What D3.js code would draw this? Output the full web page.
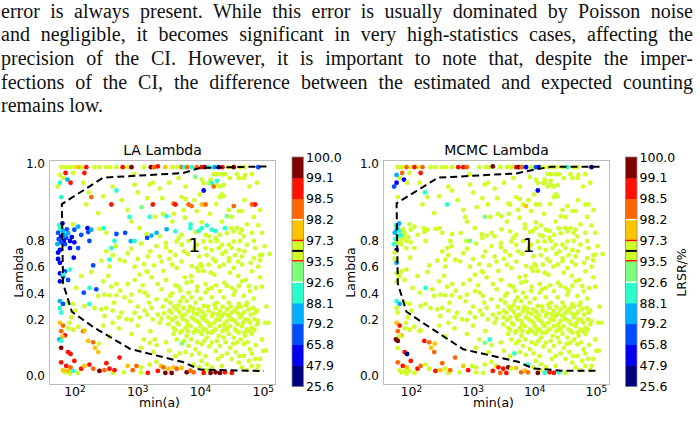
<!DOCTYPE html>
<html>
<head>
<meta charset="utf-8">
<script src="https://cdn.jsdelivr.net/npm/d3@7"></script>
<style>
body { margin: 0; background: #fff; }
svg { display: block; }
</style>
</head>
<body>
<script>
// paragraph above the figure
const paragraph = [
  "error is always present. While this error is usually dominated by Poisson noise",
  "and negligible, it becomes significant in very high-statistics cases, affecting the",
  "precision of the CI. However, it is important to note that, despite the imper-",
  "fections of the CI, the difference between the estimated and expected counting",
  "remains low."
];

// LRSR colour bins (%)
const lrsrBounds = [25.6, 47.9, 65.8, 79.2, 88.1, 92.6, 93.5, 97.3, 98.2, 98.5, 99.1, 100.0];
const lrsrColors = ["#00007f", "#0000f1", "#004cff", "#00b0ff", "#29ffce", "#7dff7a",
                    "#ceff29", "#ffc400", "#ff6800", "#ff1200", "#7f0000"];
// contour levels drawn on the colour bar
const lrsrLines = [98.2, 97.3, 95.4, 93.6, 92.6];
const lrsrLineColors = ["#ffffff", "#ff0000", "#000000", "#ff0000", "#ffffff"];

const yTicks = [0.0, 0.2, 0.4, 0.6, 0.8, 1.0];
const xTickExp = [2, 3, 4, 5];

// points in the 93.5-97.3 bin in both panels: [log10 min(a), lambda]
const bulkLRSR = 95.4;
const bulk = [
  [1.78,0.99],[1.84,0.99],[1.99,0.99],[2.10,0.99],[2.31,0.99],[2.39,0.99],[2.50,0.99],[2.56,0.99],
  [2.66,0.99],[3.10,0.99],[3.55,0.99],[3.62,0.99],[4.45,0.99],[4.63,0.99],[4.70,0.99],
  [1.97,0.975],[2.94,0.972],[1.81,0.962],[2.13,0.95],[2.95,0.945],[3.24,0.95],[3.19,0.945],
  [2.18,0.894],[2.84,0.88],[3.28,0.862],[2.37,0.872],[1.97,0.843],
  [2.60,0.94],[3.00,0.925],[2.75,0.905],[3.15,0.91],[3.35,0.935],[2.45,0.915],[3.50,0.95],
  [2.90,0.85],[3.40,0.87],[3.55,0.85],
  [2.39,0.831],[2.50,0.821],[3.03,0.833],[3.14,0.818],[3.35,0.812],[2.84,0.705],[3.16,0.68],
  [2.42,0.647],[2.71,0.655],[2.79,0.642],[3.26,0.61],[3.14,0.565],
  [2.50,0.72],[2.65,0.76],[2.90,0.74],[3.05,0.78],[3.20,0.72],[3.30,0.76],[2.60,0.69],
  [3.00,0.66],[3.35,0.68],[2.95,0.60],[3.10,0.62],[2.55,0.60],[3.38,0.64],
  [2.10,0.53],[2.26,0.56],[2.45,0.49],[2.53,0.53],[2.66,0.47],[2.84,0.47],[3.03,0.54],
  [3.16,0.56],[3.32,0.47],[2.02,0.44],
  [2.37,0.38],[2.47,0.39],[2.55,0.385],[2.66,0.385],[2.79,0.37],[2.90,0.39],[3.03,0.417],
  [3.11,0.405],[3.16,0.38],[3.30,0.355],
  [2.58,0.45],[2.72,0.42],[2.95,0.50],[3.08,0.46],[3.22,0.52],[3.38,0.43],[3.45,0.50],
  [3.52,0.38],[3.60,0.46],[3.68,0.42],[3.75,0.52],[2.62,0.33],[2.88,0.34],[3.00,0.30],
  [3.18,0.33],[3.40,0.30],[3.45,0.35],[3.50,0.27],[3.65,0.31],[3.72,0.37],[2.70,0.22],
  [2.90,0.20],[3.15,0.24],[3.38,0.21],[3.42,0.25],
  [1.89,0.33],[1.97,0.32],[2.00,0.27],[1.94,0.22],[2.15,0.305],[2.31,0.29],[2.42,0.28],
  [2.50,0.29],[2.47,0.23],[2.60,0.27],[2.74,0.255],[2.82,0.205],[2.95,0.255],[3.03,0.22],
  [3.11,0.27],[3.22,0.29],[3.24,0.205],[3.32,0.24],
  [1.89,0.17],[1.97,0.165],[1.91,0.19],[2.05,0.175],
  [2.90,0.15],[3.00,0.18],[3.10,0.13],[3.20,0.16],[3.30,0.11],[3.35,0.19],[2.70,0.17],
  [2.60,0.19],[3.05,0.10],[3.25,0.085],[3.45,0.12],[3.50,0.09],[3.60,0.07],[2.45,0.18],[2.55,0.14],
  [1.84,0.012],[1.92,0.008],[2.05,0.01],[2.60,0.01],[2.78,0.012],[3.05,0.012],[3.19,0.04],
  [3.98,0.03],[4.09,0.02],[4.18,0.03],[4.34,0.035],[4.66,0.03],[4.74,0.02],[4.82,0.035],
  [4.90,0.02],[3.05,0.03],[3.30,0.05],
  [3.65,0.962],[4.21,0.972],[4.26,0.972],[4.34,0.972],[4.39,0.972],[4.47,0.962],[4.58,0.972],
  [4.71,0.97],[4.82,0.972],[4.61,0.962],[4.69,0.962],[4.02,0.958],[4.16,0.958],[4.13,0.949],
  [4.05,0.949],[4.26,0.944],[4.31,0.94],[4.37,0.944],[3.76,0.94],[3.39,0.91],[3.70,0.913],
  [3.76,0.908],[3.99,0.92],[4.34,0.92],[4.31,0.913],[4.37,0.915],[3.73,0.88],[3.94,0.877],
  [4.45,0.88],[4.61,0.877],[4.66,0.877],[4.50,0.862],[4.85,0.862],[4.02,0.848],[4.34,0.85],
  [4.92,0.84],[4.74,0.843],[4.49,0.833],[4.58,0.833],[4.90,0.95],[4.78,0.94],
  [3.58,0.87],[3.75,0.86],[4.15,0.87],[4.25,0.895],[4.70,0.905],[4.95,0.88],[3.90,0.905],
  [3.92,0.823],[3.70,0.816],[3.65,0.808],[3.81,0.80],[4.08,0.816],[4.13,0.812],[4.24,0.808],
  [4.31,0.816],[4.42,0.82],[4.53,0.825],[4.63,0.821],[4.69,0.812],[4.82,0.821],[4.98,0.821],[4.66,0.829],
  [3.45,0.785],[3.62,0.797],[3.70,0.771],[3.94,0.771],[4.05,0.797],[4.16,0.797],[4.26,0.80],
  [4.34,0.771],[4.45,0.771],[4.53,0.797],[4.63,0.80],[4.74,0.771],[4.85,0.80],[3.52,0.719],
  [3.73,0.719],[4.08,0.745],[4.18,0.73],[4.29,0.745],[4.40,0.719],[4.50,0.745],[4.61,0.73],
  [4.87,0.745],[4.45,0.667],[4.66,0.68],[4.85,0.667],[4.98,0.693],[3.60,0.69],[3.98,0.68],
  [3.50,0.66],[3.70,0.64],[3.80,0.70],[3.90,0.74],[4.10,0.69],[4.20,0.66],[4.35,0.70],
  [4.55,0.69],[4.70,0.72],[4.80,0.63],[4.92,0.60],[3.45,0.75],[4.00,0.62],[4.30,0.60],[4.60,0.64],
  [3.55,0.616],[3.62,0.59],[3.86,0.605],[3.94,0.59],[4.02,0.605],[4.13,0.616],[4.24,0.642],
  [4.37,0.616],[4.45,0.642],[4.53,0.59],[4.66,0.616],[4.82,0.565],[4.95,0.65],[5.10,0.70],
  [4.95,0.69],[5.02,0.76],
  [3.41,0.568],[3.97,0.568],[4.05,0.568],[4.16,0.555],[4.47,0.555],[3.86,0.49],[4.08,0.47],
  [4.18,0.44],[4.42,0.455],[4.50,0.44],[4.61,0.455],[4.66,0.49],[4.77,0.455],[4.31,0.417],
  [3.94,0.417],[4.08,0.405],[3.81,0.405],[4.37,0.37],[4.53,0.39],[4.69,0.38],[4.79,0.417],
  [3.86,0.37],[3.68,0.342],[3.78,0.342],[3.92,0.33],[4.00,0.36],[4.18,0.37],[4.26,0.33],
  [4.45,0.33],[4.61,0.32],[4.74,0.33],[4.85,0.36],
  [3.55,0.40],[3.65,0.45],[3.78,0.48],[3.95,0.45],[4.12,0.43],[4.25,0.46],[4.38,0.48],
  [4.55,0.42],[4.72,0.50],[4.88,0.44],[3.85,0.53],[4.22,0.54],[4.60,0.53],
  [3.62,0.28],[3.54,0.255],[3.73,0.29],[3.81,0.268],[3.89,0.255],[3.97,0.28],[4.05,0.305],
  [4.13,0.268],[4.24,0.29],[4.31,0.268],[4.42,0.28],[4.50,0.255],[4.58,0.29],[4.66,0.24],
  [4.77,0.28],[4.87,0.255],
  [3.52,0.33],[3.58,0.30],[3.66,0.26],[3.75,0.24],[3.83,0.30],[3.88,0.285],[3.95,0.245],
  [4.03,0.26],[4.07,0.235],[4.12,0.30],[4.20,0.25],[4.22,0.315],[4.28,0.24],[4.35,0.30],
  [4.38,0.25],[4.44,0.235],[4.48,0.30],[4.54,0.27],[4.60,0.25],[4.64,0.30],[4.70,0.26],
  [4.73,0.31],[4.80,0.24],[4.84,0.29],[4.90,0.27],
  [3.49,0.22],[3.60,0.22],[3.70,0.23],[3.78,0.196],[3.86,0.22],[3.94,0.196],[4.02,0.22],
  [4.10,0.196],[4.18,0.23],[4.26,0.205],[4.34,0.23],[4.42,0.196],[4.47,0.22],[4.55,0.196],
  [4.63,0.22],[4.71,0.205],[4.79,0.19],[4.92,0.196],[5.03,0.19],
  [3.55,0.20],[3.63,0.19],[3.72,0.205],[3.80,0.185],[3.90,0.205],[3.98,0.19],[4.06,0.205],
  [4.14,0.185],[4.22,0.19],[4.30,0.20],[4.38,0.185],[4.50,0.205],[4.59,0.185],[4.68,0.19],
  [4.76,0.20],[4.86,0.205],
  [3.49,0.184],[3.57,0.172],[3.65,0.184],[3.76,0.172],[3.84,0.178],[3.92,0.166],[4.00,0.178],
  [4.08,0.166],[4.16,0.178],[4.24,0.166],[4.31,0.178],[4.39,0.172],[4.47,0.178],[4.55,0.166],
  [4.66,0.178],[4.74,0.166],[4.82,0.172],[4.90,0.184],
  [3.60,0.165],[3.70,0.16],[3.80,0.16],[3.96,0.16],[4.04,0.165],[4.12,0.155],[4.20,0.16],
  [4.35,0.16],[4.42,0.165],[4.58,0.16],[4.70,0.155],[4.78,0.16],[4.86,0.165],
  [3.57,0.15],[3.68,0.155],[3.78,0.143],[3.89,0.155],[4.02,0.15],[4.10,0.137],[4.18,0.155],
  [4.29,0.143],[4.37,0.137],[4.45,0.15],[4.53,0.137],[4.61,0.155],[4.71,0.143],[4.82,0.15],[4.98,0.13],
  [3.62,0.13],[3.74,0.125],[3.85,0.13],[3.95,0.12],[4.06,0.125],[4.14,0.105],[4.26,0.125],
  [4.40,0.12],[4.52,0.115],[4.64,0.13],[4.75,0.12],[4.88,0.11],
  [3.81,0.107],[3.92,0.095],[4.02,0.113],[4.18,0.119],[4.24,0.089],[4.31,0.107],[4.47,0.10],
  [4.58,0.119],[4.69,0.113],[4.79,0.095],[5.00,0.089],
  [3.76,0.085],[3.86,0.075],[3.98,0.08],[4.08,0.07],[4.28,0.06],[4.42,0.08],[4.56,0.085],
  [4.62,0.07],[4.82,0.08],[4.95,0.06],
  [4.34,0.071],[4.50,0.06],[4.61,0.047],[4.69,0.071],[4.77,0.053],[4.87,0.06],[4.92,0.035],
  [4.02,0.053],[4.10,0.041],[4.18,0.03],
  [5.05,0.30],[4.98,0.45],[5.08,0.19],[4.95,0.52],[5.04,0.09]
];

// points with other colours: [log10 min(a), lambda, LRSR LA, LRSR MCMC]
const colored = [
  [1.92,0.99,95,98.4],[2.05,0.99,97.8,98.8],[2.18,0.99,98.8,98.4],[2.76,0.99,98.8,98.8],
  [2.84,0.99,95,98.8],[2.90,0.99,99.5,98.4],[3.21,0.99,99.5,95],[3.26,0.99,98.4,95],
  [3.32,0.992,98.8,99.5],[3.44,0.99,97.8,95],[3.70,0.99,98.4,98.8],[3.74,0.99,90,99.5],
  [3.79,0.99,98.4,98.4],[3.86,0.99,90,55],[3.94,0.99,98.4,95],[4.02,0.99,98.8,72],
  [4.07,0.99,99.5,55],[4.13,0.99,90,95],[4.22,0.99,85,95],[4.29,0.99,55,95],
  [4.35,0.99,98.8,95],[4.53,0.99,99.5,90],[4.92,0.99,72,40],
  [1.85,0.975,98.8,98.4],[1.76,0.97,95,85],[2.15,0.975,98.8,98.8],[1.88,0.958,85,55],
  [1.76,0.95,90,55],[1.93,0.95,98.8,95],[1.72,0.94,95,72],[2.66,0.93,90,95],
  [2.26,0.913,98.4,95],[1.78,0.913,90,95],[2.58,0.894,98.8,90],[3.06,0.887,93,95],
  [3.24,0.894,98.8,95],[2.87,0.862,90,95],[3.19,0.862,90,93],[2.22,0.925,95,90],
  [1.78,0.833,85,90],[1.76,0.829,90,85],[1.81,0.825,85,90],[1.73,0.821,72,85],
  [1.78,0.812,55,90],[1.86,0.808,72,95],[1.99,0.829,72,95],[2.05,0.837,85,95],
  [2.10,0.816,72,95],[2.20,0.833,55,95],[2.21,0.823,72,95],[2.26,0.829,85,95],
  [2.23,0.80,72,95],[1.92,0.80,55,95],[1.99,0.79,55,95],[1.84,0.775,72,95],
  [1.92,0.745,55,95],[2.05,0.745,72,95],[1.76,0.73,55,40],
  [1.75,0.84,90,90],[1.80,0.845,55,85],[1.83,0.815,85,90],[1.87,0.83,72,95],
  [1.74,0.805,72,90],[1.82,0.80,55,95],[1.89,0.82,85,95],[1.95,0.81,55,95],
  [1.78,0.79,72,95],[1.72,0.775,85,90],[1.73,0.71,55,95],[1.81,0.525,72,95],[1.73,0.66,55,95],
  [2.46,0.833,90,95],[2.63,0.80,90,95],[2.66,0.818,72,95],[2.80,0.821,72,95],
  [2.89,0.799,85,95],[2.95,0.80,90,93],[3.15,0.808,72,95],[3.22,0.814,85,95],
  [3.30,0.821,85,95],[2.58,0.745,90,95],[1.98,0.67,55,95],[2.29,0.61,72,95],
  [2.55,0.655,90,95],[1.76,0.63,55,85],[1.84,0.565,72,95],[1.92,0.578,90,95],
  [1.76,0.55,55,95],[1.81,0.545,90,95],[1.76,0.49,55,95],[1.89,0.50,72,95],
  [2.14,0.405,72,95],[2.23,0.44,90,90],[2.34,0.43,72,95],
  [1.76,0.342,85,90],[1.81,0.32,72,85],[1.76,0.29,90,95],[1.78,0.255,90,95],[2.23,0.32,90,95],
  [1.76,0.19,97.8,97.8],[1.81,0.18,98.4,98.8],[1.78,0.16,98.4,98.4],[1.84,0.145,98.8,97.8],
  [1.80,0.14,97.8,95],[1.75,0.13,85,99.5],[1.78,0.125,90,99.5],[2.13,0.16,98.4,95],
  [2.15,0.162,97.8,95],[1.78,0.10,99.5,95],[1.89,0.085,98.8,98.8],[1.93,0.078,98.8,40],
  [2.21,0.125,97.8,98.8],[2.29,0.12,98.4,98.4],[2.32,0.10,97.8,97.8],[2.37,0.085,97.8,98.4],
  [2.38,0.115,95,97.8],[1.99,0.053,98.8,98.8],[1.78,0.048,98.8,98.4],[1.86,0.035,98.8,98.8],
  [1.81,0.02,97.8,95],[1.89,0.017,97.8,95],[1.97,0.017,90,95],[1.93,0.03,98.4,97.8],
  [2.10,0.025,98.8,98.8],[2.15,0.035,97.8,98.4],[2.23,0.04,98.8,95],[2.29,0.025,98.4,95],
  [2.39,0.017,99.5,98.8],[2.50,0.045,98.8,98.4],[2.47,0.02,98.4,97.8],[2.55,0.025,98.8,95],
  [2.63,0.02,98.8,98.4],[2.71,0.065,98.8,98.4],[2.84,0.035,97.8,97.8],[2.92,0.02,98.4,98.8],
  [2.98,0.035,98.4,95],[3.16,0.01,98.8,95],[3.32,0.017,98.8,98.8],[3.37,0.035,97.8,95],
  [3.41,0.03,98.4,98.8],[3.49,0.025,97.8,98.8],[3.57,0.03,97.8,99.5],[3.62,0.025,98.4,95],
  [3.70,0.028,97.8,97.8],[3.44,0.01,99.5,98.4],[3.54,0.01,99.5,98.8],[3.78,0.012,99.5,98.4],
  [3.84,0.018,98.4,97.8],[3.89,0.012,98.4,98.4],[4.05,0.01,98.8,99.5],[4.16,0.01,99.5,90],
  [4.24,0.012,99.5,98.8],[4.31,0.01,99.5,98.8],[4.39,0.012,98.8,90],[4.50,0.01,98.8,95],
  [3.67,0.08,95,90],[3.89,0.04,95,90],[3.19,0.118,95,93],[3.27,0.13,95,90],[3.70,0.116,93,95],
  [3.92,0.965,93,95],[4.18,0.949,90,95],[4.26,0.955,90,95],[4.21,0.94,98.4,95],[4.05,0.93,55,55],
  [3.57,0.896,98.4,95],[3.60,0.894,98.8,95],[3.81,0.894,98.4,95],[3.86,0.89,98.4,97.8],
  [4.02,0.894,97.8,95],[4.08,0.894,98.4,95],[4.53,0.89,98.4,95],[4.82,0.894,98.4,95],
  [4.87,0.894,98.8,95],[3.46,0.864,90,95],[4.42,0.864,93,95],[3.46,0.83,85,95],
  [3.60,0.825,90,95],[3.84,0.843,90,95],[3.84,0.833,90,95],[3.97,0.826,90,95],
  [4.02,0.833,90,95],[4.10,0.84,90,95],[4.18,0.829,90,95],[4.24,0.826,90,95],[4.39,0.833,90,95]
];

// dashed boundary (level 1 contour) of each panel
const laLineLogA     = [5.05, 3.99, 3.72, 2.45, 1.79, 1.81, 1.95, 2.29, 2.88, 3.72, 3.99, 5.01];
const laLineLambda   = [0.992, 0.988, 0.975, 0.963, 0.895, 0.474, 0.262, 0.175, 0.096, 0.049, 0.022, 0.017];
const mcmcLineLogA   = [5.05, 4.27, 4.03, 3.70, 2.43, 1.76, 1.78, 1.92, 2.24, 2.84, 3.73, 3.97, 4.46, 5.00];
const mcmcLineLambda = [0.991, 0.991, 0.985, 0.974, 0.963, 0.897, 0.474, 0.262, 0.182, 0.095, 0.05, 0.026, 0.018, 0.018];

// contour label
const contourText = "1";
const contourLogA = 3.9, contourLambda = 0.77;

var W = 700, H = 434;
var font = "'DejaVu Sans', sans-serif";

var svg = d3.select("body").append("svg")
    .attr("width", W)
    .attr("height", H);

// paragraph text, justified by widening the word gaps
var textWidth = 692;
svg.append("g").selectAll("text")
    .data(paragraph)
    .enter().append("text")
    .attr("x", 1)
    .attr("y", function(d, i) { return 17.5 + i * 23.7; })
    .style("font-family", "'Liberation Serif', 'Times New Roman', serif")
    .style("font-size", "20px")
    .style("fill", "#111")
    .text(function(d) { return d; })
    .each(function(d, i) {
      if (i === paragraph.length - 1) return;
      var gaps = d.split(" ").length - 1;
      var extra = (textWidth - this.getComputedTextLength()) / gaps;
      d3.select(this).style("word-spacing", extra + "px");
    });

var colorScale = d3.scaleThreshold()
    .domain(lrsrBounds.slice(1, -1))
    .range(lrsrColors);

function drawPanel(p) {
  var top = 160, h = 225, w = 227;
  var x = d3.scaleLog()
      .domain([Math.pow(10, p.xDom[0]), Math.pow(10, p.xDom[1])])
      .range([p.left, p.left + w]);
  // stretched lambda axis
  var y = d3.scaleLinear()
      .domain([-0.033, 0, 0.2, 0.4, 0.6, 0.8, 1.0, 1.0085])
      .range([1, 0.9587, 0.7111, 0.5924, 0.4742, 0.36, 0.0147, 0].map(function(f) { return top + f * h; }));

  var g = svg.append("g");

  g.append("text")
      .attr("x", p.left + w / 2)
      .attr("y", 155)
      .attr("text-anchor", "middle")
      .style("font-family", font)
      .style("font-size", "14px")
      .text(p.title);

  var pts = bulk.map(function(d) { return {a: d[0], l: d[1], v: bulkLRSR}; })
      .concat(colored.map(function(d) { return {a: d[0], l: d[1], v: d[p.col]}; }));

  g.selectAll(".dot")
      .data(pts)
      .enter().append("circle")
      .attr("class", "dot")
      .attr("cx", function(d) { return x(Math.pow(10, d.a)); })
      .attr("cy", function(d) { return y(d.l); })
      .attr("r", 2.4)
      .style("fill", function(d) { return colorScale(d.v); });

  var line = d3.line()
      .x(function(d) { return x(Math.pow(10, d[0])); })
      .y(function(d) { return y(d[1]); });

  g.append("path")
      .datum(d3.zip(p.lineA, p.lineL))
      .attr("d", line)
      .style("fill", "none")
      .style("stroke", "#000")
      .style("stroke-width", 2)
      .style("stroke-dasharray", "7,4");

  g.append("text")
      .attr("x", x(Math.pow(10, contourLogA)))
      .attr("y", y(contourLambda))
      .attr("dy", "0.36em")
      .attr("text-anchor", "middle")
      .style("font-family", font)
      .style("font-size", "19px")
      .text(contourText);

  g.append("rect")
      .attr("x", p.left + 0.5)
      .attr("y", top + 0.5)
      .attr("width", w - 1)
      .attr("height", h - 1)
      .style("fill", "none")
      .style("stroke", "#bdbdbd");

  // y ticks
  g.selectAll(".ytick")
      .data(yTicks)
      .enter().append("text")
      .attr("class", "ytick")
      .attr("x", p.left - 4)
      .attr("y", function(d) { return y(d); })
      .attr("dy", "0.36em")
      .attr("text-anchor", "end")
      .style("font-family", font)
      .style("font-size", "12px")
      .text(d3.format(".1f"));

  // x ticks, 10^k
  var xt = g.selectAll(".xtick")
      .data(xTickExp)
      .enter().append("text")
      .attr("class", "xtick")
      .attr("x", function(d) { return x(Math.pow(10, d)); })
      .attr("y", 396)
      .attr("text-anchor", "middle")
      .style("font-family", font)
      .style("font-size", "12.5px");
  xt.append("tspan").text("10");
  xt.append("tspan")
      .attr("dy", "-0.5em")
      .style("font-size", "9px")
      .text(function(d) { return d; });

  g.append("text")
      .attr("x", p.left + w / 2 - 3)
      .attr("y", 407)
      .attr("text-anchor", "middle")
      .style("font-family", font)
      .style("font-size", "12.5px")
      .text("min(a)");

  g.append("text")
      .attr("transform", "translate(" + p.ylabX + "," + (top + h / 2) + ") rotate(-90)")
      .attr("text-anchor", "middle")
      .attr("dy", "0.36em")
      .style("font-family", font)
      .style("font-size", "12.5px")
      .text("Lambda");

  // colour bar
  var cTop = 157, cBot = 386.5, cw = 11.5;
  var cy = d3.scaleLinear()
      .domain(lrsrBounds)
      .range(lrsrBounds.map(function(d, i) { return cBot - i * (cBot - cTop) / (lrsrBounds.length - 1); }));

  g.selectAll(".cbin")
      .data(lrsrColors)
      .enter().append("rect")
      .attr("class", "cbin")
      .attr("x", p.cbX)
      .attr("y", function(d, i) { return cy(lrsrBounds[i + 1]); })
      .attr("width", cw)
      .attr("height", function(d, i) { return cy(lrsrBounds[i]) - cy(lrsrBounds[i + 1]) + 0.3; })
      .style("fill", function(d) { return d; });

  g.selectAll(".cline")
      .data(lrsrLines)
      .enter().append("line")
      .attr("x1", p.cbX)
      .attr("x2", p.cbX + cw)
      .attr("y1", function(d) { return cy(d); })
      .attr("y2", function(d) { return cy(d); })
      .style("stroke", function(d, i) { return lrsrLineColors[i]; })
      .style("stroke-width", function(d, i) { return lrsrLineColors[i] === "#000000" ? 2 : 1.4; });

  g.append("rect")
      .attr("x", p.cbX)
      .attr("y", cTop)
      .attr("width", cw)
      .attr("height", cBot - cTop)
      .style("fill", "none")
      .style("stroke", "#888")
      .style("stroke-width", 0.8);

  g.selectAll(".clabel")
      .data(lrsrBounds)
      .enter().append("text")
      .attr("x", p.cbX + cw + 2.5)
      .attr("y", function(d) { return cy(d); })
      .attr("dy", "0.36em")
      .style("font-family", font)
      .style("font-size", "12.5px")
      .text(d3.format(".1f"));

  if (p.cbLabel) {
    g.append("text")
        .attr("transform", "translate(" + (p.cbX + 56) + "," + (top + h / 2) + ") rotate(-90)")
        .attr("text-anchor", "middle")
        .attr("dy", "0.36em")
        .style("font-family", font)
        .style("font-size", "12.5px")
        .text(p.cbLabel);
  }
}

drawPanel({left: 49, xDom: [1.586, 5.203], title: "LA Lambda", col: 2,
           lineA: laLineLogA, lineL: laLineLambda, ylabX: 18, cbX: 292, cbLabel: null});
drawPanel({left: 383, xDom: [1.54, 5.22], title: "MCMC Lambda", col: 3,
           lineA: mcmcLineLogA, lineL: mcmcLineLambda, ylabX: 350, cbX: 625.5, cbLabel: "LRSR/%"});
</script>
</body>
</html>
